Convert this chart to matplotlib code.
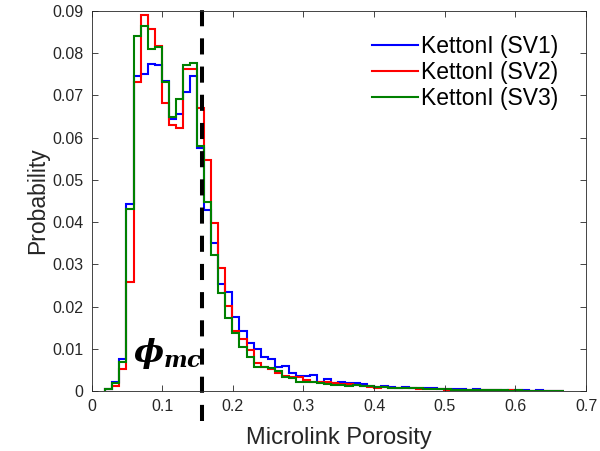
import numpy as np
import matplotlib
matplotlib.use("Agg")
import matplotlib.pyplot as plt

plt.rcParams['font.family'] = ['Liberation Sans', 'DejaVu Sans']
plt.rcParams['mathtext.fontset'] = 'custom'
plt.rcParams['mathtext.it'] = 'DejaVu Serif:italic:bold'
plt.rcParams['mathtext.rm'] = 'DejaVu Serif:bold'

# histogram bins (probability), bin width 0.01
bin_start = 0.0195
bin_width = 0.01

sv1 = [0.0005, 0.0021, 0.0076, 0.0443, 0.0745, 0.0750, 0.0774, 0.0771, 0.0735, 0.0644,
       0.0656, 0.0709, 0.0746, 0.0575, 0.0429, 0.0350, 0.0253, 0.0235, 0.0176, 0.0141,
       0.0114, 0.0099, 0.0080, 0.0075, 0.0058, 0.0060, 0.0042, 0.0036, 0.0036, 0.0038,
       0.0022, 0.0028, 0.0018, 0.0022, 0.0020, 0.0020, 0.0016, 0.0012, 0.0010, 0.0011,
       0.0009, 0.0008, 0.0010, 0.0008, 0.0007, 0.0007, 0.0006, 0.0005, 0.0005, 0.0004,
       0.0004, 0.0003, 0.0004, 0.0003, 0.0003, 0.0002, 0.0002, 0.0003, 0.0002, 0.0002,
       0.0001, 0.0002, 0.0001, 0.0001, 0.0001]
sv2 = [0.0004, 0.0013, 0.0052, 0.0258, 0.0733, 0.0891, 0.0857, 0.0816, 0.0682, 0.0630,
       0.0622, 0.0762, 0.0762, 0.0670, 0.0547, 0.0399, 0.0291, 0.0201, 0.0141, 0.0122,
       0.0097, 0.0066, 0.0056, 0.0051, 0.0042, 0.0036, 0.0034, 0.0033, 0.0026, 0.0022,
       0.0022, 0.0021, 0.0018, 0.0017, 0.0016, 0.0015, 0.0012, 0.0010, 0.0008, 0.0009,
       0.0007, 0.0008, 0.0006, 0.0007, 0.0005, 0.0004, 0.0005, 0.0004, 0.0003, 0.0003,
       0.0003, 0.0002, 0.0003, 0.0002, 0.0002, 0.0002, 0.0001, 0.0002, 0.0001, 0.0001,
       0.0001, 0.0001, 0.0001, 0.0001, 0.0001]
sv3 = [0.0004, 0.0018, 0.0068, 0.0430, 0.0841, 0.0865, 0.0810, 0.0814, 0.0733, 0.0650,
       0.0692, 0.0771, 0.0776, 0.0580, 0.0448, 0.0322, 0.0231, 0.0172, 0.0137, 0.0105,
       0.0080, 0.0058, 0.0056, 0.0054, 0.0048, 0.0032, 0.0030, 0.0022, 0.0022, 0.0021,
       0.0018, 0.0017, 0.0015, 0.0015, 0.0013, 0.0015, 0.0013, 0.0012, 0.0010, 0.0009,
       0.0008, 0.0008, 0.0007, 0.0006, 0.0006, 0.0005, 0.0005, 0.0004, 0.0004, 0.0003,
       0.0003, 0.0003, 0.0002, 0.0003, 0.0002, 0.0002, 0.0002, 0.0001, 0.0002, 0.0001,
       0.0001, 0.0001, 0.0001, 0.0001, 0.0001]
labels = ['KettonI (SV1)', 'KettonI (SV2)', 'KettonI (SV3)']
colors = ['#0000ff', '#ff0000', '#008000']

phi_mc = 0.157

edges = bin_start + bin_width * np.arange(len(sv1) + 1)

fig = plt.figure(figsize=(6.0, 4.51), dpi=100)
ax = fig.add_axes([91.5/600, 60/451, 494.5/600, 380/451])

for vals, lab, c in zip([sv1, sv2, sv3], labels, colors):
    ax.stairs(vals, edges, color=c, lw=1.5, label=lab)

# dashed marker for phi_mc, runs a bit past the bottom axis
ax.plot([phi_mc, phi_mc], [-0.0072, 0.0905], color='k', lw=2.9,
        dashes=(4, 3), clip_on=False)
ax.text(0.059, 0.0068, r'$\phi_{mc}$', fontsize=23, color='k')

ax.set_xlim(0, 0.7)
ax.set_ylim(0, 0.09)
ax.set_xticks(np.arange(0, 0.71, 0.1))
ax.set_yticks(np.arange(0, 0.091, 0.01))
ax.set_xticklabels(['0', '0.1', '0.2', '0.3', '0.4', '0.5', '0.6', '0.7'])
ax.set_yticklabels(['0'] + ['%.2f' % v for v in np.arange(0.01, 0.091, 0.01)])
ax.tick_params(direction='in', top=True, right=True, length=4, width=0.6,
               labelsize=11.5, labelcolor='#262626', color='#262626', pad=6)
for s in ax.spines.values():
    s.set_color('#262626')
    s.set_linewidth(0.6)

ax.set_xlabel('Microlink Porosity', fontsize=17, color='#262626', labelpad=9)
ax.set_ylabel('Probability', fontsize=16.5, color='#262626', labelpad=2)

ax.legend(loc='upper left', bbox_to_anchor=(0.567, 0.938), frameon=False,
          fontsize=16.5, handlelength=2.0, handletextpad=0.15, labelspacing=0.15,
          borderpad=0, borderaxespad=0)

fig.savefig('out.png', dpi=100)
